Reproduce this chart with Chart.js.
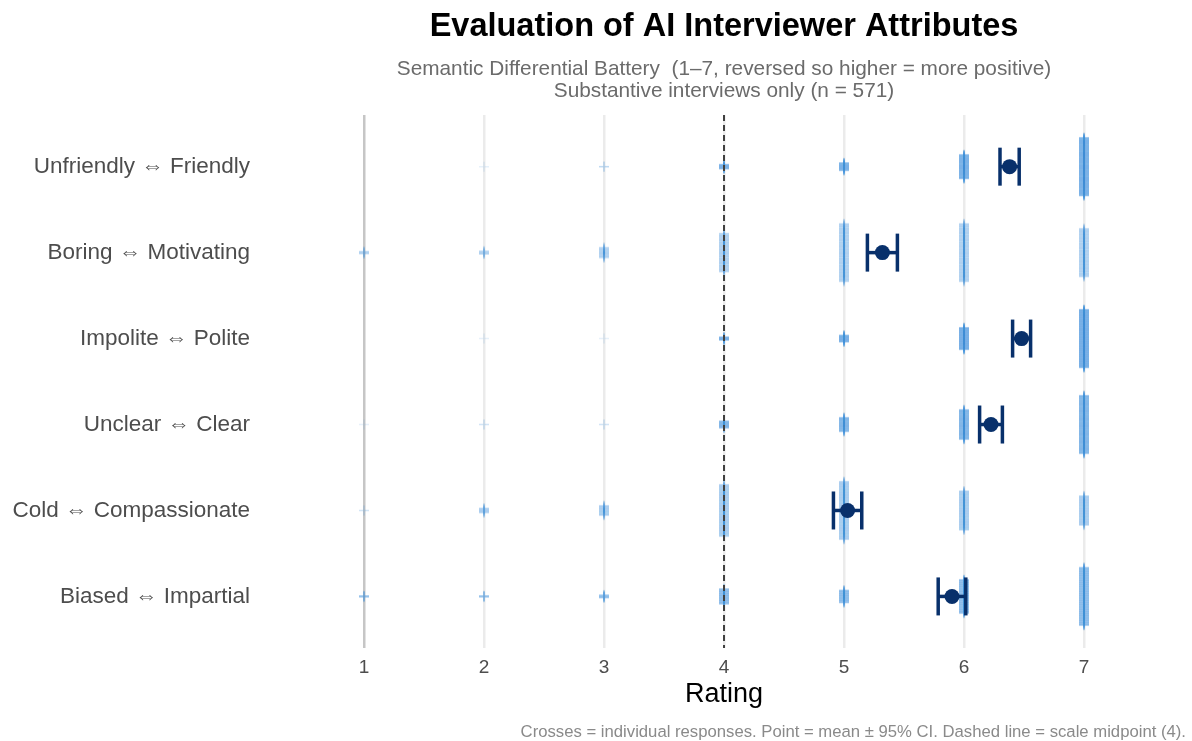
<!DOCTYPE html>
<html><head><meta charset="utf-8">
<script src="https://cdn.jsdelivr.net/npm/chart.js@4.4.1/dist/chart.umd.min.js"></script>
<style>
html,body{margin:0;padding:0;background:#fff;}
#wrap{position:relative;width:1192px;height:741px;}
#note{position:absolute;right:6px;top:722px;font:16.7px "Liberation Sans","DejaVu Sans",sans-serif;color:#8a8a8a;white-space:nowrap;}
</style></head>
<body>
<div id="wrap"><canvas id="c" width="1192" height="741"></canvas>
<div id="note">Crosses = individual responses. Point = mean ± 95% CI. Dashed line = scale midpoint (4).</div></div>
<script>
// ---- data ----
const categories = ["Unfriendly ⇔ Friendly","Boring ⇔ Motivating","Impolite ⇔ Polite","Unclear ⇔ Clear","Cold ⇔ Compassionate","Biased ⇔ Impartial"];
const ratingValues = [1,2,3,4,5,6,7];
// number of responses at rating 1..7 per item
const countsFriendly      = [0, 1, 3, 29, 48, 144, 346];
const countsMotivating    = [8, 10, 28, 100, 150, 150, 125];
const countsPolite        = [0, 1, 1, 22, 44, 139, 364];
const countsClear         = [1, 2, 2, 38, 74, 154, 300];
const countsCompassionate = [2, 15, 30, 152, 170, 115, 87];
const countsImpartial     = [8, 8, 15, 70, 58, 152, 260];
const means  = [6.38, 5.32, 6.48, 6.225, 5.03, 5.90];
const ciHalf = [0.08, 0.125, 0.075, 0.095, 0.118, 0.115];
const xTickValues = [1,2,3,4,5,6,7];
const midpoint = 4;

const allCounts = [countsFriendly,countsMotivating,countsPolite,countsClear,countsCompassionate,countsImpartial];
const FONT = '"Liberation Sans","DejaVu Sans",sans-serif';

// crosses: responses stacked in a strip whose height follows the count
const crossPts = [];
allCounts.forEach((counts, i) => {
  const maxC = Math.max(...counts);
  counts.forEach((n, j) => {
    const half = 0.34 * n / maxC;
    for (let k = 0; k < n; k++) {
      crossPts.push({x: ratingValues[j], y: i - half + 2 * half * (k + 0.5) / n});
    }
  });
});

const navy = '#08306b';
const datasets = [];
datasets.push({label:'means', data: means.map((m,i)=>({x:m,y:i})), pointStyle:'circle', pointRadius:7.5,
  backgroundColor:navy, borderColor:navy, borderWidth:0, order:0});
datasets.push({label:'caps', data: means.flatMap((m,i)=>[{x:m-ciHalf[i],y:i},{x:m+ciHalf[i],y:i}]),
  pointStyle:'line', rotation:90, pointRadius:19, borderColor:navy, borderWidth:3.5, order:1});
means.forEach((m,i)=>{
  datasets.push({label:'ci'+i, data:[{x:m-ciHalf[i],y:i},{x:m+ciHalf[i],y:i}], showLine:true,
    pointRadius:0, borderColor:navy, borderWidth:3.5, order:1});
});
datasets.push({label:'mid', data:[{x:midpoint,y:-0.6},{x:midpoint,y:5.6}], showLine:true, pointRadius:0,
  borderColor:'#404040', borderWidth:2, borderDash:[6,4], order:2});
datasets.push({label:'crosses', data: crossPts, pointStyle:'cross', pointRadius:5,
  borderColor:'rgba(70,150,215,0.13)', borderWidth:1.5, backgroundColor:'rgba(0,0,0,0)', order:3});

new Chart(document.getElementById('c'), {
  type:'scatter',
  data:{datasets},
  options:{
    responsive:false, animation:false, devicePixelRatio:1,
    layout:{padding:{left:0,right:72,top:0,bottom:0}},
    plugins:{
      legend:{display:false}, tooltip:{enabled:false},
      title:{display:true, fullSize:false, text:'Evaluation of AI Interviewer Attributes', color:'#000',
        font:{family:FONT,size:32.5,weight:'bold',lineHeight:1.2}, padding:{top:7.5,bottom:11.5}},
      subtitle:{display:true, fullSize:false, text:['Semantic Differential Battery  (1–7, reversed so higher = more positive)','Substantive interviews only (n = 571)'],
        color:'#6b6b6b', font:{family:FONT,size:20.8,lineHeight:1.06}, padding:{top:0,bottom:13}}
    },
    scales:{
      x:{type:'linear', min:0.7, max:7.3,
        afterBuildTicks:(ax)=>{ax.ticks = xTickValues.map(v=>({value:v}));},
        afterFit:(ax)=>{ax.height = 93;},
        grid:{drawTicks:false, lineWidth:2.5, color:(c)=> c.tick && c.tick.value===1 ? '#c6c6c6' : '#ebebeb'},
        border:{display:false},
        ticks:{padding:8, color:'#4d4d4d', font:{family:FONT,size:19}, callback:(v)=>String(v)},
        title:{display:true, text:'Rating', color:'#000', font:{family:FONT,size:27,lineHeight:1.2}, padding:{top:0,bottom:29.8}}
      },
      y:{type:'linear', reverse:true, min:-0.6, max:5.6,
        afterBuildTicks:(ax)=>{ax.ticks = categories.map((c,i)=>({value:i}));},
        afterFit:(ax)=>{ax.width = 328;},
        grid:{display:false, drawTicks:false}, border:{display:false},
        ticks:{padding:78, color:'#4d4d4d', font:{family:FONT,size:22.5}, callback:(v)=>categories[v]}
      }
    }
  }
});
</script>
</body></html>
